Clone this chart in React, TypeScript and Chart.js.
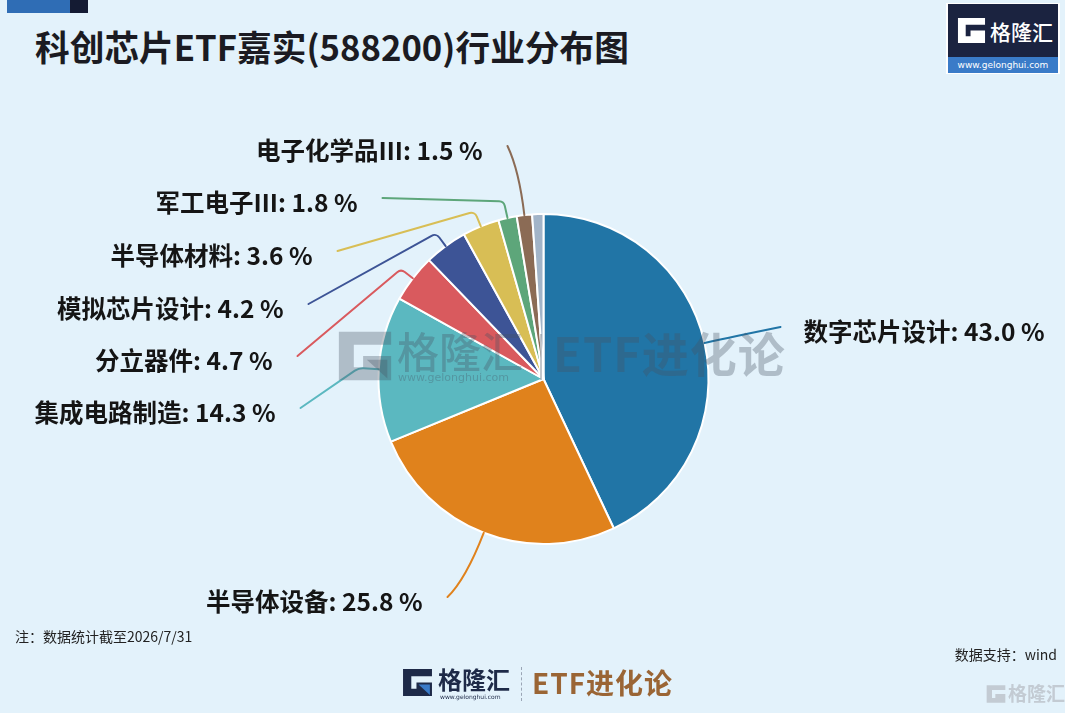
import React, { useEffect, useRef } from "react";
import { Chart, registerables } from "chart.js";

Chart.register(...registerables);

// ---- data ----
const CATEGORIES = [
  "数字芯片设计",
  "半导体设备",
  "集成电路制造",
  "分立器件",
  "模拟芯片设计",
  "半导体材料",
  "军工电子Ⅲ",
  "电子化学品Ⅲ",
  "其他",
];
const WEIGHTS = [43.0, 25.8, 14.3, 4.7, 4.2, 3.6, 1.8, 1.5, 1.1];
const SHOW_LABEL = [true, true, true, true, true, true, true, true, false];

// ---- styles ----
const COLORS = [
  "#2175A6",
  "#E0821C",
  "#5BB8C0",
  "#D95A5E",
  "#3D5496",
  "#D8BE55",
  "#5DA67A",
  "#8B6B55",
  "#A2B4C8",
];

// ---- label layout (offsets from pie centre, px) ----
const LABEL_DX = [260, -121, -268, -271, -260, -231, -186, -61, 0];
const LABEL_DY = [-47, 223, 34, -18, -70, -123, -176, -228, 0];
const ELBOW = [30, 50, 20, 15, 16, 16, 17, 45, 0];
const CORNER = [0, 0, 14, 6, 6, 6, 6, 0, 0];
const SMOOTH = [true, true, false, false, false, false, false, true, false];

const FONT_CJK = '"Noto Sans CJK SC", "Noto Sans", sans-serif';

const leaderPlugin = {
  id: "leaders",
  afterDatasetsDraw(chart: any) {
    const ctx = chart.ctx as CanvasRenderingContext2D;
    const meta = chart.getDatasetMeta(0);
    meta.data.forEach((arc: any, i: number) => {
      if (!SHOW_LABEL[i]) return;
      const { x, y, startAngle, endAngle, outerRadius } = arc.getProps(
        ["x", "y", "startAngle", "endAngle", "outerRadius"],
        true
      );
      const mid = (startAngle + endAngle) / 2;
      const ux = Math.cos(mid);
      const uy = Math.sin(mid);
      const sx = x + ux * outerRadius;
      const sy = y + uy * outerRadius;
      const ex = x + ux * (outerRadius + ELBOW[i]);
      const ey = y + uy * (outerRadius + ELBOW[i]);
      const right = LABEL_DX[i] > 0;
      const tx = x + LABEL_DX[i];
      const ty = y + LABEL_DY[i];
      const lx = right ? tx - 23 : tx + 25;
      const ly = ty - 5;

      ctx.save();
      ctx.strokeStyle = COLORS[i];
      ctx.lineWidth = 2;
      ctx.lineCap = "round";
      ctx.beginPath();
      ctx.moveTo(sx, sy);
      if (SMOOTH[i]) {
        ctx.quadraticCurveTo(ex, ey, lx, ly);
      } else {
        const v1x = sx - ex, v1y = sy - ey, v2x = lx - ex, v2y = ly - ey;
        const l1 = Math.hypot(v1x, v1y), l2 = Math.hypot(v2x, v2y);
        let r = CORNER[i];
        const cosT = (v1x * v2x + v1y * v2y) / (l1 * l2 || 1);
        const theta = Math.acos(Math.max(-1, Math.min(1, cosT)));
        const tanHalf = Math.tan(theta / 2);
        if (tanHalf > 0 && isFinite(tanHalf)) {
          const t = r / tanHalf;
          const lim = Math.min(l1, l2) * 0.95;
          if (t > lim) r = lim * tanHalf;
        }
        ctx.arcTo(ex, ey, lx, ly, r);
        ctx.lineTo(lx, ly);
      }
      ctx.stroke();

      ctx.font = `bold 24.5px ${FONT_CJK}`;
      ctx.fillStyle = "#151515";
      ctx.textAlign = right ? "left" : "right";
      ctx.textBaseline = "middle";
      ctx.fillText(`${CATEGORIES[i]}: ${WEIGHTS[i].toFixed(1)} %`, tx, ty);
      ctx.restore();
    });
  },
};

function GIcon({ size, dark, accent }: { size: number; dark: string; accent: string }) {
  return (
    <svg width={size} height={size} viewBox="0 0 30 30" style={{ display: "block" }}>
      <path d="M1 2 H29 V9 H9 V21 H14 V15 H29 V28 H1 Z" fill={dark} />
      <path d="M16 17 L27 17 L27 27 Z" fill={accent} />
    </svg>
  );
}

export default function App() {
  const canvasRef = useRef<HTMLCanvasElement | null>(null);

  useEffect(() => {
    if (!canvasRef.current) return;
    const chart = new Chart(canvasRef.current, {
      type: "pie",
      data: {
        labels: CATEGORIES,
        datasets: [
          {
            data: WEIGHTS,
            backgroundColor: COLORS,
            borderColor: "#ffffff",
            borderWidth: 2,
          },
        ],
      },
      options: {
        animation: false,
        responsive: true,
        maintainAspectRatio: false,
        layout: { padding: { top: 213, bottom: 168, left: 377, right: 355 } },
        plugins: { legend: { display: false }, tooltip: { enabled: false } },
      },
      plugins: [leaderPlugin],
    });
    return () => chart.destroy();
  }, []);

  const wm = "rgba(70,82,98,0.33)";

  return (
    <div
      style={{
        position: "absolute",
        left: 0,
        top: 0,
        width: 1065,
        height: 713,
        background: "#E3F2FB",
        overflow: "hidden",
        fontFamily: FONT_CJK,
      }}
    >
      {/* top-left decoration */}
      <div style={{ position: "absolute", left: 7, top: 0, width: 63, height: 13, background: "#2F6DB5" }} />
      <div style={{ position: "absolute", left: 70, top: 0, width: 18, height: 13, background: "#141B33" }} />

      {/* title */}
      <div
        style={{
          position: "absolute",
          left: 35,
          top: 23,
          fontSize: 34.7,
          fontWeight: 700,
          color: "#1b1b22",
          whiteSpace: "nowrap",
          lineHeight: "46px",
        }}
      >
        科创芯片ETF嘉实(588200)行业分布图
      </div>

      {/* top-right logo */}
      <div
        style={{
          position: "absolute",
          left: 946,
          top: 3,
          width: 114,
          height: 71,
          background: "#ffffff",
        }}
      >
        <div style={{ position: "absolute", left: 2, top: 1, width: 110, height: 53, background: "#1B2340" }}>
          <div style={{ position: "absolute", left: 9, top: 12 }}>
            <GIcon size={29} dark="#ffffff" accent="#ffffff" />
          </div>
          <div
            style={{
              position: "absolute",
              left: 42,
              top: 13,
              color: "#ffffff",
              fontSize: 21,
              fontWeight: 500,
              lineHeight: "28px",
              whiteSpace: "nowrap",
            }}
          >
            格隆汇
          </div>
        </div>
        <div
          style={{
            position: "absolute",
            left: 2,
            top: 54,
            width: 110,
            height: 16,
            background: "#3A7BC8",
            color: "#ffffff",
            fontSize: 9,
            lineHeight: "16px",
            textAlign: "center",
            fontFamily: '"DejaVu Sans", sans-serif',
          }}
        >
          www.gelonghui.com
        </div>
      </div>

      {/* chart */}
      <div style={{ position: "absolute", left: 0, top: 0, width: 1065, height: 713 }}>
        <canvas ref={canvasRef} />
      </div>

      {/* watermark over pie */}
      <div style={{ position: "absolute", left: 337, top: 328, pointerEvents: "none" }}>
        <GIcon size={56} dark={wm} accent={wm} />
      </div>
      <div
        style={{
          position: "absolute",
          left: 397,
          top: 324,
          fontSize: 42,
          fontWeight: 500,
          color: wm,
          lineHeight: "52px",
          whiteSpace: "nowrap",
          pointerEvents: "none",
        }}
      >
        格隆汇
      </div>
      <div
        style={{
          position: "absolute",
          left: 398,
          top: 371,
          fontSize: 11,
          color: wm,
          lineHeight: "14px",
          fontFamily: '"DejaVu Sans", sans-serif',
          pointerEvents: "none",
        }}
      >
        www.gelonghui.com
      </div>
      <div style={{ position: "absolute", left: 540, top: 334, width: 2, height: 46, background: wm }} />
      <div
        style={{
          position: "absolute",
          left: 553,
          top: 322,
          fontSize: 47,
          fontWeight: 700,
          color: wm,
          lineHeight: "60px",
          whiteSpace: "nowrap",
          letterSpacing: 1,
          pointerEvents: "none",
        }}
      >
        ETF进化论
      </div>

      {/* footer notes */}
      <div style={{ position: "absolute", left: 15, top: 626, fontSize: 14, color: "#222", lineHeight: "20px", whiteSpace: "nowrap" }}>
        注：数据统计截至2026/7/31
      </div>
      <div
        style={{
          position: "absolute",
          right: 8,
          top: 644,
          fontSize: 14,
          color: "#222",
          lineHeight: "20px",
          whiteSpace: "nowrap",
        }}
      >
        数据支持：wind
      </div>

      {/* bottom centre brand */}
      <div style={{ position: "absolute", left: 402, top: 667 }}>
        <GIcon size={31} dark="#1E2A48" accent="#3A7BC8" />
      </div>
      <div
        style={{
          position: "absolute",
          left: 438,
          top: 664,
          fontSize: 24,
          fontWeight: 700,
          color: "#1E2A48",
          lineHeight: "30px",
          whiteSpace: "nowrap",
        }}
      >
        格隆汇
      </div>
      <div
        style={{
          position: "absolute",
          left: 440,
          top: 693,
          fontSize: 6,
          color: "#1E2A48",
          lineHeight: "8px",
          fontFamily: '"DejaVu Sans", sans-serif',
          whiteSpace: "nowrap",
        }}
      >
        www.gelonghui.com
      </div>
      <div style={{ position: "absolute", left: 521, top: 667, width: 0, height: 34, borderLeft: "1px dashed #9aa5b5" }} />
      <div
        style={{
          position: "absolute",
          left: 532,
          top: 664,
          fontSize: 28,
          fontWeight: 700,
          color: "#9A6535",
          lineHeight: "36px",
          whiteSpace: "nowrap",
          letterSpacing: 1,
        }}
      >
        ETF进化论
      </div>

      {/* bottom-right faint brand */}
      <div style={{ position: "absolute", left: 986, top: 684 }}>
        <GIcon size={20} dark="#C3CBD3" accent="#C3CBD3" />
      </div>
      <div
        style={{
          position: "absolute",
          left: 1008,
          top: 680,
          fontSize: 19,
          fontWeight: 700,
          color: "#C3CBD3",
          lineHeight: "26px",
          whiteSpace: "nowrap",
        }}
      >
        格隆汇
      </div>
    </div>
  );
}
